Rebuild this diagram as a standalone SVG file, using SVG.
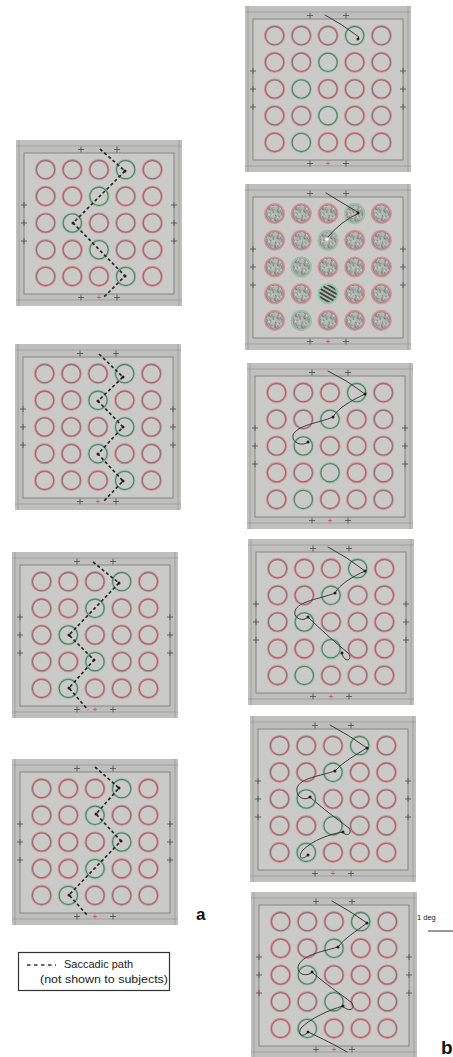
<svg xmlns="http://www.w3.org/2000/svg" xmlns:xlink="http://www.w3.org/1999/xlink" width="453" height="1057" viewBox="0 0 453 1057">
<style>
.fl{stroke:#8e8e8e;stroke-width:0.6;fill:none}
.cross{stroke:#555;stroke-width:0.9;fill:none}
.rmark{stroke:#d8606f;stroke-width:1;fill:none}
.dash{stroke:#2a2a2a;stroke-width:1.7;fill:none;stroke-dasharray:3.2 2.4}
.sol{stroke:#3a3a3a;stroke-width:1;fill:none;stroke-linecap:round}
.dot{fill:#1e1e1e}
.lbl{font-family:"Liberation Sans",Arial,sans-serif;font-weight:bold;fill:#111}
.txt{font-family:"Liberation Sans",Arial,sans-serif;fill:#222}
</style>
<defs>
<pattern id="clutter" width="9" height="9" patternUnits="userSpaceOnUse" patternTransform="rotate(17)">
<rect width="9" height="9" fill="#b3b9b4"/>
<path d="M1,1 q2,1 1,3 q-1,2 1,3 M4,0.5 q1,2 3,1 M1.5,6 q2,-1 3,1.5 M5,3.5 q-1,1 0.5,2.5 q2,1 3,-1 M7,7 q1,1 0,2" stroke="#5d6862" stroke-width="0.8" fill="none"/>
<path d="M3,3 q1,-1 2,0 M6,1 q1,1 2,0" stroke="#eef0ec" stroke-width="0.7" fill="none"/>
<circle cx="8" cy="5" r="0.6" fill="#c98d96"/>
<circle cx="2" cy="8" r="0.6" fill="#d6a0a7"/>
</pattern>
<pattern id="stripes" width="3.6" height="3.6" patternUnits="userSpaceOnUse" patternTransform="rotate(-60)">
<rect width="3.6" height="3.6" fill="#aeb8b0"/>
<rect width="1.8" height="3.6" fill="#3b4740"/>
</pattern>
<g id="rc">
<circle r="9.4" fill="none" stroke="#dc8d96" stroke-width="2.4"/>
<circle r="9.2" fill="none" stroke="#8a7476" stroke-width="1.1"/>
</g>
<g id="gc">
<circle r="9.4" fill="none" stroke="#cbcdc9" stroke-width="3.2"/>
<circle r="9.4" fill="none" stroke="#97c2a8" stroke-width="2.4"/>
<circle r="9.2" fill="none" stroke="#5f7b6b" stroke-width="1.1"/>
</g>
<g id="tc">
<circle r="9.6" fill="url(#clutter)" stroke="#dc8d96" stroke-width="1.9"/>
<circle r="8.6" fill="none" stroke="#7f7a78" stroke-width="0.6"/>
</g>
<g id="frame">
<rect width="166" height="166" fill="#bfbfbd"/>
<rect x="8" y="13" width="150" height="141" fill="#cacbc7" stroke="#777" stroke-width="0.8"/>
<line class="fl" x1="0" y1="6" x2="166" y2="6"/>
<line class="fl" x1="0" y1="160" x2="166" y2="160"/>
<line class="fl" x1="3" y1="0" x2="3" y2="166"/>
<line class="fl" x1="163" y1="0" x2="163" y2="166"/>
<path class="cross" d="M62,9.5h6M65,6.5v6M98,9.5h6M101,6.5v6M62,157.5h6M65,154.5v6M98,157.5h6M101,154.5v6M5,65h6M8,62v6M5,83h6M8,80v6M5,101h6M8,98v6M155,65h6M158,62v6M155,83h6M158,80v6M155,101h6M158,98v6"/>
<path class="rmark" d="M81,157.5h4M83,155.5v4"/>
</g>
<g id="grid">
<use href="#rc" x="29.6" y="29.6"/><use href="#rc" x="56.3" y="29.6"/><use href="#rc" x="83" y="29.6"/><use href="#rc" x="109.7" y="29.6"/><use href="#rc" x="136.4" y="29.6"/>
<use href="#rc" x="29.6" y="56.3"/><use href="#rc" x="56.3" y="56.3"/><use href="#rc" x="83" y="56.3"/><use href="#rc" x="109.7" y="56.3"/><use href="#rc" x="136.4" y="56.3"/>
<use href="#rc" x="29.6" y="83"/><use href="#rc" x="56.3" y="83"/><use href="#rc" x="83" y="83"/><use href="#rc" x="109.7" y="83"/><use href="#rc" x="136.4" y="83"/>
<use href="#rc" x="29.6" y="109.7"/><use href="#rc" x="56.3" y="109.7"/><use href="#rc" x="83" y="109.7"/><use href="#rc" x="109.7" y="109.7"/><use href="#rc" x="136.4" y="109.7"/>
<use href="#rc" x="29.6" y="136.4"/><use href="#rc" x="56.3" y="136.4"/><use href="#rc" x="83" y="136.4"/><use href="#rc" x="109.7" y="136.4"/><use href="#rc" x="136.4" y="136.4"/>
</g>
<g id="tgrid">
<use href="#tc" x="29.6" y="29.6"/><use href="#tc" x="56.3" y="29.6"/><use href="#tc" x="83" y="29.6"/><use href="#tc" x="109.7" y="29.6"/><use href="#tc" x="136.4" y="29.6"/>
<use href="#tc" x="29.6" y="56.3"/><use href="#tc" x="56.3" y="56.3"/><use href="#tc" x="83" y="56.3"/><use href="#tc" x="109.7" y="56.3"/><use href="#tc" x="136.4" y="56.3"/>
<use href="#tc" x="29.6" y="83"/><use href="#tc" x="56.3" y="83"/><use href="#tc" x="83" y="83"/><use href="#tc" x="109.7" y="83"/><use href="#tc" x="136.4" y="83"/>
<use href="#tc" x="29.6" y="109.7"/><use href="#tc" x="56.3" y="109.7"/><use href="#tc" x="109.7" y="109.7"/><use href="#tc" x="136.4" y="109.7"/>
<use href="#tc" x="29.6" y="136.4"/><use href="#tc" x="56.3" y="136.4"/><use href="#tc" x="83" y="136.4"/><use href="#tc" x="109.7" y="136.4"/><use href="#tc" x="136.4" y="136.4"/>
</g>
<g id="greenB">
<use href="#gc" x="109.7" y="29.6"/><use href="#gc" x="83" y="56.3"/><use href="#gc" x="56.3" y="83"/><use href="#gc" x="83" y="109.7"/><use href="#gc" x="56.3" y="136.4"/>
</g>
</defs>

<!-- column a -->
<g id="panel-a1" transform="translate(16,140)">
<use href="#frame"/><use href="#grid"/>
<use href="#gc" x="109.7" y="29.6"/><use href="#gc" x="83" y="56.3"/><use href="#gc" x="56.3" y="83"/><use href="#gc" x="83" y="109.7"/><use href="#gc" x="109.7" y="136.4"/>
</g>
<g id="panel-a2" transform="translate(15,344)">
<use href="#frame"/><use href="#grid"/>
<use href="#gc" x="109.7" y="29.6"/><use href="#gc" x="83" y="56.3"/><use href="#gc" x="109.7" y="83"/><use href="#gc" x="83" y="109.7"/><use href="#gc" x="109.7" y="136.4"/>
</g>
<g id="panel-a3" transform="translate(12,552)">
<use href="#frame"/><use href="#grid"/>
<use href="#gc" x="109.7" y="29.6"/><use href="#gc" x="83" y="56.3"/><use href="#gc" x="56.3" y="83"/><use href="#gc" x="83" y="109.7"/><use href="#gc" x="56.3" y="136.4"/>
</g>
<g id="panel-a4" transform="translate(12,759)">
<use href="#frame"/><use href="#grid"/>
<use href="#gc" x="109.7" y="29.6"/><use href="#gc" x="83" y="56.3"/><use href="#gc" x="109.7" y="83"/><use href="#gc" x="83" y="109.7"/><use href="#gc" x="56.3" y="136.4"/>
</g>

<!-- column b -->
<g id="panel-b1" transform="translate(245,6)">
<use href="#frame"/><use href="#grid"/><use href="#greenB"/>
</g>
<g id="panel-b2" transform="translate(245,184)">
<use href="#frame"/><use href="#tgrid"/>
<circle cx="109.7" cy="29.6" r="9.6" fill="none" stroke="#97c2a8" stroke-width="1.9"/>
<circle cx="83" cy="56.3" r="9.6" fill="none" stroke="#97c2a8" stroke-width="1.9"/>
<circle cx="56.3" cy="83" r="9.6" fill="none" stroke="#97c2a8" stroke-width="1.9"/>
<circle cx="56.3" cy="136.4" r="9.6" fill="none" stroke="#97c2a8" stroke-width="1.9"/>
<circle cx="83" cy="109.7" r="9.6" fill="url(#stripes)" stroke="#97c2a8" stroke-width="1.9"/>
</g>
<g id="panel-b3" transform="translate(247,363)">
<use href="#frame"/><use href="#grid"/><use href="#greenB"/>
</g>
<g id="panel-b4" transform="translate(248,539)">
<use href="#frame"/><use href="#grid"/><use href="#greenB"/>
</g>
<g id="panel-b5" transform="translate(250,716)">
<use href="#frame"/><use href="#grid"/><use href="#greenB"/>
</g>
<g id="panel-b6" transform="translate(251,892)">
<use href="#frame"/><use href="#grid"/><use href="#greenB"/>
</g>

<!-- saccade paths -->
<g id="connectors">
<g transform="translate(16,140)">
<path class="dash" d="M84,9 L109,31 L57,83 L109,136 L87,158"/>
<circle class="dot" cx="109" cy="31" r="1.5"/><circle class="dot" cx="57" cy="83" r="1.5"/><circle class="dot" cx="109" cy="136" r="1.5"/>
</g>
<g transform="translate(15,344)">
<path class="dash" d="M84,10 L108,33 L83,57 L108,83 L83,110 L108,137 L88,158"/>
<circle class="dot" cx="108" cy="33" r="1.5"/><circle class="dot" cx="83" cy="57" r="1.5"/><circle class="dot" cx="108" cy="83" r="1.5"/><circle class="dot" cx="83" cy="110" r="1.5"/><circle class="dot" cx="108" cy="137" r="1.5"/>
</g>
<g transform="translate(12,552)">
<path class="dash" d="M81,10 L107,31 L57,83 L82,108 L57,136 L76,158"/>
<circle class="dot" cx="107" cy="31" r="1.5"/><circle class="dot" cx="57" cy="83" r="1.5"/><circle class="dot" cx="82" cy="108" r="1.5"/><circle class="dot" cx="57" cy="136" r="1.5"/>
</g>
<g transform="translate(12,759)">
<path class="dash" d="M83,8 L107,29 L84,55 L109,82 L57,136 L76,157"/>
<circle class="dot" cx="107" cy="29" r="1.5"/><circle class="dot" cx="84" cy="55" r="1.5"/><circle class="dot" cx="109" cy="82" r="1.5"/><circle class="dot" cx="57" cy="136" r="1.5"/>
</g>
<g transform="translate(245,6)">
<path class="sol" d="M80,9 Q97,18 114,31 L112,34"/>
<circle class="dot" cx="113" cy="33" r="1.4"/>
</g>
<g transform="translate(245,184)">
<path class="sol" d="M81,9 L114,29 Q96,37 82,54"/>
<circle class="dot" cx="113" cy="29" r="1.5"/>
<circle cx="82" cy="55" r="1.8" fill="#ffffff"/>
</g>
<g transform="translate(247,363)">
<path class="sol" d="M81,8 Q100,17 118,31 C104,38 92,44 86,54 C72,60 50,62 46,72 C44,80 56,84 61,79"/>
<circle class="dot" cx="118" cy="31" r="1.5"/><circle class="dot" cx="86" cy="54" r="1.5"/><circle class="dot" cx="61" cy="79" r="1.5"/>
</g>
<g transform="translate(248,539)">
<path class="sol" d="M80,8 Q99,18 117,32 C104,38 92,45 87,54 C72,60 50,62 47,72 C45,80 56,83 60,78 C72,90 88,104 100,114 C104,118 101,123 97,120 C95,118 94,116 94,114"/>
<circle class="dot" cx="117" cy="32" r="1.5"/><circle class="dot" cx="87" cy="54" r="1.5"/><circle class="dot" cx="60" cy="78" r="1.5"/><circle class="dot" cx="94" cy="114" r="1.5"/>
</g>
<g transform="translate(250,716)">
<path class="sol" d="M80,9 Q99,19 117,32 C104,40 93,46 85,55 C70,60 50,62 47,72 C45,82 56,85 60,81 C72,92 88,104 99,112 C102,116 99,120 95,118 C93,117 93,116 93,116 C80,118 63,124 53,134 C48,140 50,146 58,139"/>
<circle class="dot" cx="117" cy="32" r="1.5"/><circle class="dot" cx="85" cy="55" r="1.5"/><circle class="dot" cx="60" cy="81" r="1.5"/><circle class="dot" cx="93" cy="116" r="1.5"/><circle class="dot" cx="58" cy="139" r="1.5"/>
</g>
<g transform="translate(251,892)">
<path class="sol" d="M81,9 Q99,19 116,31 C104,40 94,46 87,55 C70,60 50,63 47,75 C46,83 57,85 61,80 C74,92 90,102 101,111 C104,116 100,119 96,117 C94,116 92,115 92,114 C78,118 60,126 50,136 C46,143 52,146 57,140 C70,146 86,154 96,160"/>
<circle class="dot" cx="116" cy="31" r="1.5"/><circle class="dot" cx="87" cy="55" r="1.5"/><circle class="dot" cx="61" cy="80" r="1.5"/><circle class="dot" cx="92" cy="114" r="1.5"/><circle class="dot" cx="57" cy="140" r="1.5"/>
</g>
</g>

<!-- labels and legend -->
<text class="lbl" x="196" y="920" font-size="17">a</text>
<text class="lbl" x="441" y="1054" font-size="19">b</text>
<text class="txt" x="417" y="920" font-size="7.5">1 deg</text>
<line x1="428" y1="931" x2="453" y2="931" stroke="#333" stroke-width="1"/>
<g id="legend">
<rect x="18.5" y="952.5" width="151" height="38" fill="#ffffff" stroke="#333" stroke-width="1.2"/>
<line x1="27" y1="965" x2="56" y2="965" stroke="#333" stroke-width="1.3" stroke-dasharray="3.5 3.5"/>
<text class="txt" x="64" y="968" font-size="11">Saccadic path</text>
<text class="txt" x="40" y="983" font-size="11" textLength="128" lengthAdjust="spacingAndGlyphs">(not shown to subjects)</text>
</g>
</svg>
